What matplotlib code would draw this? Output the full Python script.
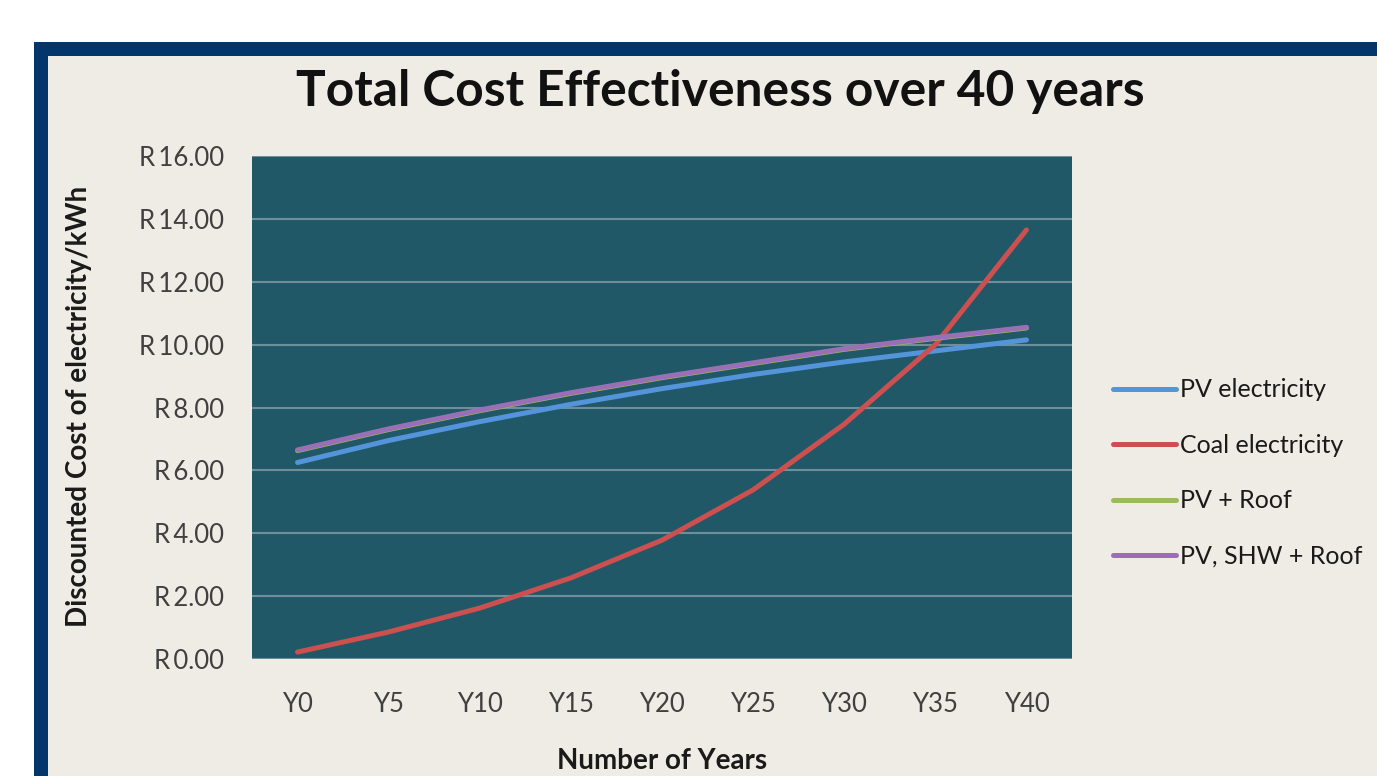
import matplotlib.pyplot as plt
from matplotlib.patches import Rectangle
from matplotlib.ticker import FuncFormatter

plt.rcParams['font.family'] = ['Lato', 'DejaVu Sans']

years = ["Y0", "Y5", "Y10", "Y15", "Y20", "Y25", "Y30", "Y35", "Y40"]
pv_electricity = [6.25, 6.95, 7.55, 8.10, 8.60, 9.05, 9.45, 9.80, 10.15]
coal_electricity = [0.22, 0.86, 1.62, 2.58, 3.78, 5.38, 7.47, 10.00, 13.65]
pv_roof = [6.63, 7.30, 7.90, 8.45, 8.95, 9.40, 9.85, 10.20, 10.53]
pv_shw_roof = [6.65, 7.32, 7.92, 8.47, 8.97, 9.42, 9.87, 10.22, 10.55]

fig = plt.figure(figsize=(13.77, 7.76), dpi=100, facecolor="white")
# slide frame: blue border and beige panel
fig.patches.append(Rectangle((34 / 1377, 0), 1, 1 - 42 / 776, transform=fig.transFigure,
                             facecolor="#03376B", edgecolor="none", zorder=-2))
fig.patches.append(Rectangle((48 / 1377, 0), 1, 1 - 56 / 776, transform=fig.transFigure,
                             facecolor="#EEECE5", edgecolor="none", zorder=-1))

ax = fig.add_axes([252 / 1377, 1 - 659 / 776, 820 / 1377, 503 / 776])
ax.set_zorder(2)
ax.set_facecolor("#215868")

x = range(len(years))
ax.plot(x, pv_electricity, color="#5494DA", lw=3.6, label="PV electricity", solid_capstyle="round")
ax.plot(x, coal_electricity, color="#CC5050", lw=3.6, label="Coal electricity", solid_capstyle="round")
ax.plot(x, pv_roof, color="#9BBB59", lw=3.6, label="PV + Roof", solid_capstyle="round")
ax.plot(x, pv_shw_roof, color="#9A6FB5", lw=3.6, label="PV, SHW + Roof", solid_capstyle="round")

ax.set_xlim(-0.5, len(years) - 0.5)
ax.set_ylim(0, 16)
ax.set_yticks(range(0, 17, 2))
ax.yaxis.set_major_formatter(FuncFormatter(lambda v, p: f"R\u2009{v:.2f}"))
ax.set_xticks(list(x))
ax.set_xticklabels(years)
ax.grid(axis="y", color="#6E8F99", lw=1.5)
ax.set_axisbelow(True)
ax.tick_params(length=0, labelsize=18.5, labelcolor="#404040")
ax.tick_params(axis="y", pad=20)
ax.tick_params(axis="x", pad=24)
for s in ax.spines.values():
    s.set_visible(False)

ax.set_ylabel("Discounted Cost of electricity/kWh", fontsize=20, fontweight="bold", color="#1a1a1a")
ax.yaxis.set_label_coords(-0.195, 0.503)
ax.set_xlabel("Number of Years", fontsize=20, fontweight="bold", color="#1a1a1a")
ax.xaxis.set_label_coords(0.5, -0.203)
ax.xaxis.label.set_va("center")

fig.text(0.523, 1 - 91 / 776, "Total Cost Effectiveness over 40 years", fontsize=35.7,
         fontweight="bold", ha="center", va="center", color="#111111")

ax.legend(loc="center left", bbox_to_anchor=(1113 / 1377, 1 - 473 / 776), bbox_transform=fig.transFigure,
          frameon=False, fontsize=18, handlelength=2.5, handletextpad=0.2, labelspacing=1.3,
          borderpad=0, borderaxespad=0, labelcolor="#1a1a1a")

fig.savefig("out.png", dpi=100, facecolor=fig.get_facecolor())
